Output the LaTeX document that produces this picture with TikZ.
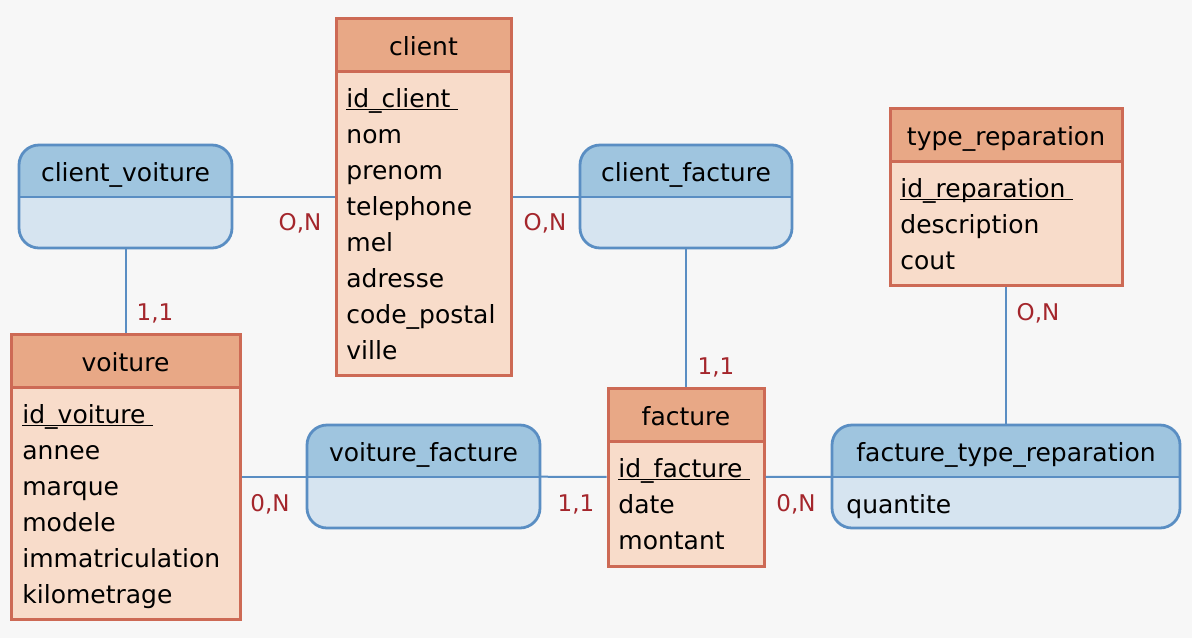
\documentclass[tikz,border=0pt]{standalone}
\usepackage{fontspec}
\setmainfont{DejaVu Sans}
\usetikzlibrary{fit}

\definecolor{fond}{RGB}{247,247,247}
\definecolor{enttete}{RGB}{232,168,134}
\definecolor{entcorps}{RGB}{248,220,202}
\definecolor{entbord}{RGB}{205,106,85}
\definecolor{assotete}{RGB}{159,197,223}
\definecolor{assocorps}{RGB}{214,228,240}
\definecolor{assobord}{RGB}{90,142,195}
\definecolor{cardrouge}{RGB}{164,38,44}

\newcommand{\cle}[1]{\underline{\smash{#1}~}}

\begin{document}
\begin{tikzpicture}[x=0.5pt,y=-0.5pt,
  entite/.style={fill=entcorps, draw=entbord, line width=1.5pt, inner sep=0pt},
  entete/.style={fill=enttete, draw=entbord, line width=1.5pt, inner sep=0pt},
  asso/.style={fill=assocorps, rounded corners=10pt, inner sep=0pt},
  titre/.style={anchor=base, inner sep=0pt, font=\fontsize{12.5pt}{15pt}\selectfont},
  attr/.style={anchor=base west, inner sep=0pt, font=\fontsize{12.5pt}{15pt}\selectfont},
  card/.style={anchor=base, inner sep=0pt, text=cardrouge, font=\fontsize{11.5pt}{13pt}\selectfont},
  lien/.style={draw=assobord, line width=1pt}]

\fill[fond] (0,0) rectangle (1192,638);
\useasboundingbox (0,0) rectangle (1192,638);

% entites
\foreach \nm/\xa/\ya/\xb/\yb/\yh in {client/336/18/511/375/71, typerep/890/108/1122/285/161,
    voiture/11/334/240/619/387, facture/608/388/764/566/441}{
  \node[entite, fit={(\xa,\ya) (\xb,\yb)}] (\nm) {};
  \node[entete, fit={(\xa,\ya) (\xb,\yh)}] (\nm-tete) {};
}

% associations
\foreach \nm/\xa/\ya/\xb/\yb/\yh in {clientvoiture/19/145/232/248/197, clientfacture/580/145/792/248/197,
    voiturefacture/307/425/540/528/477, facturetyperep/832/425/1180/528/477}{
  \node[asso, fit={(\xa,\ya) (\xb,\yb)}] (\nm) {};
  \begin{scope}
    \clip (\xa,\ya) rectangle (\xb,\yh);
    \fill[assotete, rounded corners=10pt] (\xa,\ya) rectangle (\xb,\yb);
  \end{scope}
  \draw[assobord, line width=1.4pt] (\xa,\yh) -- (\xb,\yh);
  \draw[assobord, line width=1.4pt, rounded corners=10pt] (\xa,\ya) rectangle (\xb,\yb);
}

% liens
\draw[lien] (clientvoiture) -- (client);
\draw[lien] (clientfacture) -- (client);
\draw[lien] (clientvoiture) -- (voiture);
\draw[lien] (clientfacture) -- (facture);
\draw[lien] (voiture) -- (voiturefacture);
\draw[lien] (voiturefacture) -- (facture);
\draw[lien] (facture) -- (facturetyperep);
\draw[lien] (typerep) -- (facturetyperep);

% textes
\node[titre] (client-titre) at (423.5,55) {client};
\node[attr] (client-0) at (346,107) {\cle{id\_client}};
\foreach \t [count=\i] in {nom,prenom,telephone,mel,adresse,code\_postal,ville}
  \node[attr] (client-\i) at (346,107+36*\i) {\t};

\node[titre] (typerep-titre) at (1006,145) {type\_reparation};
\node[attr] (typerep-0) at (900,197) {\cle{id\_reparation}};
\foreach \t [count=\i] in {description,cout}
  \node[attr] (typerep-\i) at (900,197+36*\i) {\t};

\node[titre] (voiture-titre) at (125.5,371) {voiture};
\node[attr] (voiture-0) at (22,423) {\cle{id\_voiture}};
\foreach \t [count=\i] in {annee,marque,modele,immatriculation,kilometrage}
  \node[attr] (voiture-\i) at (22,423+36*\i) {\t};

\node[titre] (facture-titre) at (686,425) {facture};
\node[attr] (facture-0) at (618,477) {\cle{id\_facture}};
\foreach \t [count=\i] in {date,montant}
  \node[attr] (facture-\i) at (618,477+36*\i) {\t};

\node[titre] (clientvoiture-titre) at (125.5,181) {client\_voiture};
\node[titre] (clientfacture-titre) at (686,181) {client\_facture};
\node[titre] (voiturefacture-titre) at (423.5,461) {voiture\_facture};
\node[titre] (facturetyperep-titre) at (1006,461) {facture\_type\_reparation};
\node[attr] (facturetyperep-1) at (846,513) {quantite};

% cardinalites
\node[card] (card-cv-c) at (300,230) {O,N};
\node[card] (card-cf-c) at (545,230) {O,N};
\node[card] (card-cv-v) at (155,320) {1,1};
\node[card] (card-cf-f) at (716,374) {1,1};
\node[card] (card-vf-v) at (270,511) {0,N};
\node[card] (card-vf-f) at (576,511) {1,1};
\node[card] (card-ft-f) at (796,511) {0,N};
\node[card] (card-ft-t) at (1038,320) {O,N};
\end{tikzpicture}
\end{document}
